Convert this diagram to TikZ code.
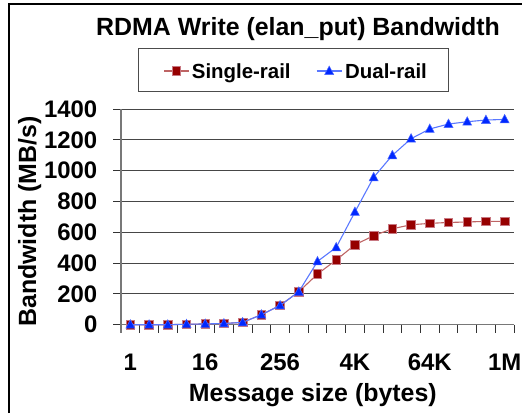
\documentclass[tikz,border=0pt]{standalone}
\usepackage{fontspec}
\setmainfont{Liberation Sans}
\definecolor{sqfill}{RGB}{150,0,0}
\definecolor{sqedge}{RGB}{200,120,130}
\definecolor{srline}{RGB}{190,100,100}
\definecolor{trfill}{RGB}{0,40,255}
\definecolor{drline}{RGB}{90,120,255}
\definecolor{gridc}{RGB}{70,70,70}
\definecolor{axisc}{RGB}{120,120,120}
\begin{document}
\begin{tikzpicture}[x=1bp,y=-1bp,
  ticklbl/.style={font=\bfseries\fontsize{24}{24}\selectfont, inner sep=0pt},
  axtitle/.style={font=\bfseries\fontsize{25}{25}\selectfont, inner sep=0pt},
  legtext/.style={font=\bfseries\fontsize{20.5}{20.5}\selectfont, inner sep=0pt, anchor=base west},
  gridline/.style={draw=gridc, line width=1.1pt},
  axisline/.style={draw=axisc, line width=1.3pt},
  tickline/.style={draw=black!80, line width=1pt},
  singleline/.style={draw=srline, line width=1.1pt},
  dualline/.style={draw=drline, line width=1.1pt},
  sqmark/.style={fill=sqfill, draw=sqedge, line width=0.7pt},
  trmark/.style={fill=trfill, draw=trfill!70!white, line width=0.5pt}
]
\useasboundingbox (0,0) rectangle (522,413);
% outer frame (only left and top visible)
\draw[line width=1.3pt] (9,413) -- (9,4) -- (522,4);

% title
\node[axtitle, anchor=base] (title) at (298,35) {RDMA Write (elan\_put) Bandwidth};

% legend
\draw[draw=black!70, line width=1pt] (138.7,48.3) rectangle (448.3,91.7);
\coordinate (lsa) at (164,71);
\coordinate (lsb) at (189,71);
\coordinate (lsm) at (176.5,71);
\draw[singleline] (lsa) -- (lsb);
\draw[sqmark] (lsm) +(-4.3,-4.3) rectangle +(4.3,4.3);
\node[legtext] (lsingle) at (191.7,78.3) {Single-rail};
\coordinate (lda) at (316.7,71);
\coordinate (ldb) at (341.7,71);
\coordinate (ldm) at (329.2,71);
\draw[dualline] (lda) -- (ldb);
\draw[trmark] (ldm) +(0,-5) -- +(4.5,3.5) -- +(-4.5,3.5) -- cycle;
\node[legtext] (ldual) at (345,78.3) {Dual-rail};

% gridlines and y ticks
\foreach \v in {200,400,...,1400} {
  \draw[gridline] (121,{324.7-0.154*\v}) -- (514,{324.7-0.154*\v});
}
\foreach \v in {0,200,...,1400} {
  \draw[tickline] (113,{324.7-0.154*\v}) -- (121,{324.7-0.154*\v});
  \node[ticklbl, anchor=east] (y\v) at (97.5,{324.7-0.154*\v}) {\v};
}
% axes
\draw[axisline] (121,109) -- (121,333);
\draw[axisline] (121,324.7) -- (514,324.7);
% x ticks
\foreach \k in {1,...,21} {
  \draw[tickline] ({121+18.714*\k},324.7) -- ({121+18.714*\k},333);
}
% x labels
\foreach \i/\t in {0/1,4/16,8/256,12/4K,16/64K,20/1M} {
  \node[ticklbl, anchor=base] (x\i) at ({121+18.714*(\i+0.5)},370) {\t};
}
% axis titles
\node[axtitle, anchor=base] (xtitle) at (312.8,401.5) {Message size (bytes)};
\node[axtitle, anchor=base, rotate=90] (ytitle) at (36,221.5) {Bandwidth (MB/s)};

% data
\foreach \v [count=\i from 0] in {0,0,0,3,5,8,15,65,125,214,329,420,519,578,623,649,658,664,667,671,671} {
  \coordinate (s\i) at ({121+18.714*(\i+0.5)},{324.7-0.154*\v});
}
\foreach \v [count=\i from 0] in {0,0,0,3,5,8,15,65,125,214,411,502,732,957,1100,1208,1271,1303,1318,1329,1333} {
  \coordinate (d\i) at ({121+18.714*(\i+0.5)},{324.7-0.154*\v});
}
\draw[singleline] (s0) \foreach \i in {1,...,20} { -- (s\i) };
\foreach \i in {0,...,20} {
  \draw[sqmark] (s\i) +(-4.3,-4.3) rectangle +(4.3,4.3);
}
\draw[dualline] (d0) \foreach \i in {1,...,20} { -- (d\i) };
\foreach \i in {0,...,20} {
  \draw[trmark] (d\i) +(0,-5) -- +(4.5,3.5) -- +(-4.5,3.5) -- cycle;
}
\end{tikzpicture}
\end{document}
